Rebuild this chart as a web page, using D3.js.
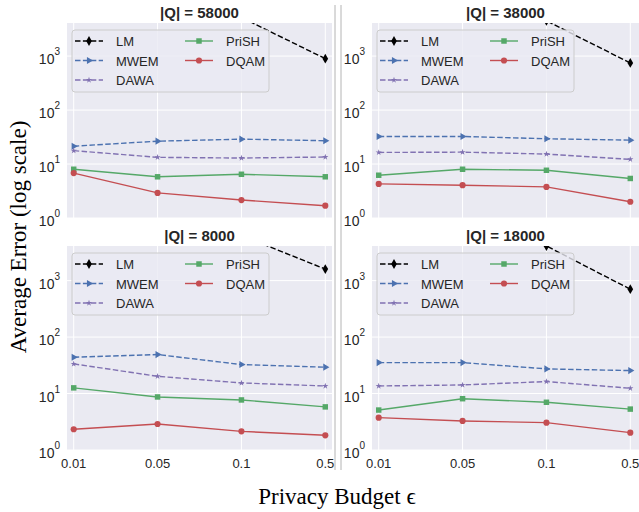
<!DOCTYPE html>
<html>
<head>
<meta charset="utf-8">
<script src="https://cdn.jsdelivr.net/npm/d3@7"></script>
<style>
  body { margin: 0; background: #fff; }
  svg { display: block; }
</style>
</head>
<body>
<div id="chart"></div>
<script>
"use strict";

// x categories (privacy budget)
const epsilons = ["0.01", "0.05", "0.1", "0.5"];
const panelTitles = ["|Q| = 58000", "|Q| = 38000", "|Q| = 8000", "|Q| = 18000"];
const yTickExponents = [0, 1, 2, 3];
const methods = ["LM", "MWEM", "DAWA", "PriSH", "DQAM"];

// one row per panel: 58000, 38000, 8000, 18000
const lmValues = [
    [30000, 14000, 5200, 895],
    [25000, 12000, 4500, 746],
    [40000, 20000, 6300, 1600],
    [20000, 10000, 4100, 705]
];
const mwemValues = [
    [21.4, 26.5, 28.9, 27.0],
    [32.4, 32.4, 29.4, 27.7],
    [44.0, 49.0, 32.6, 29.3],
    [35.3, 35.3, 27.3, 25.5]
];
const dawaValues = [
    [17.7, 13.3, 12.9, 13.5],
    [16.4, 16.6, 15.3, 12.2],
    [33.5, 20.2, 15.4, 13.6],
    [13.6, 14.2, 16.3, 12.4]
];
const prishValues = [
    [8.0, 5.8, 6.46, 5.8],
    [6.2, 8.0, 7.66, 5.4],
    [12.6, 8.7, 7.7, 5.8],
    [5.1, 8.1, 7.0, 5.3]
];
const dqamValues = [
    [6.8, 2.92, 2.15, 1.69],
    [4.28, 4.05, 3.77, 2.0],
    [2.33, 2.89, 2.14, 1.82],
    [3.74, 3.27, 3.05, 2.03]
];

const seriesValues = [lmValues, mwemValues, dawaValues, prishValues, dqamValues];

const width = 639, height = 512;
const textColor = "#262626";

// Look of each method
const styles = {
    LM:    { color: "#000000", dash: "5.5,2.4", symbol: d3.symbolDiamond, size: 28, rotate: 0 },
    MWEM:  { color: "#4C72B0", dash: "5.5,2.4", symbol: d3.symbolTriangle, size: 22, rotate: 90 },
    DAWA:  { color: "#8172B2", dash: "5.5,2.4", symbol: d3.symbolStar, size: 12, rotate: 0 },
    PriSH: { color: "#55A868", dash: null, symbol: d3.symbolSquare, size: 30, rotate: 0 },
    DQAM:  { color: "#C44E52", dash: null, symbol: d3.symbolCircle, size: 30, rotate: 0 }
};

// Panel boxes (xEnd is where the x range stops)
const panels = [
    { left: 67, right: 332, xEnd: 332, top: 23, bottom: 218, xLabels: false },
    { left: 372, right: 639, xEnd: 637, top: 23, bottom: 218, xLabels: false },
    { left: 67, right: 332, xEnd: 332, top: 246, bottom: 450, xLabels: true },
    { left: 372, right: 639, xEnd: 637, top: 246, bottom: 450, xLabels: true }
];

const svg = d3.select("#chart").append("svg")
    .attr("width", width)
    .attr("height", height)
    .attr("viewBox", [0, 0, width, height]);

// Separator lines between the two columns
[335, 341].forEach(x => {
    svg.append("line")
        .attr("x1", x).attr("x2", x)
        .attr("y1", 5).attr("y2", 470)
        .attr("stroke", "#b4b4b4")
        .attr("stroke-width", 1);
});

panels.forEach((p, pi) => {
    const xScale = d3.scalePoint()
        .domain(epsilons)
        .range([p.left, p.xEnd])
        .padding(0.08);

    const yScale = d3.scaleLog()
        .domain([1, 4100])
        .range([p.bottom, p.top]);

    const g = svg.append("g");

    // Background
    g.append("rect")
        .attr("x", p.left).attr("y", p.top)
        .attr("width", p.right - p.left)
        .attr("height", p.bottom - p.top)
        .attr("fill", "#EAEAF2");

    // Grid lines
    g.append("g")
        .selectAll("line")
        .data(epsilons)
        .join("line")
        .attr("x1", d => xScale(d)).attr("x2", d => xScale(d))
        .attr("y1", p.top).attr("y2", p.bottom)
        .attr("stroke", "#fff")
        .attr("stroke-width", 1);

    g.append("g")
        .selectAll("line")
        .data(yTickExponents)
        .join("line")
        .attr("x1", p.left).attr("x2", p.right)
        .attr("y1", d => yScale(Math.pow(10, d)))
        .attr("y2", d => yScale(Math.pow(10, d)))
        .attr("stroke", "#fff")
        .attr("stroke-width", 1);

    // Y tick labels as 10^n
    const yLabel = g.append("g")
        .attr("font-family", "'Liberation Sans', Arial, sans-serif")
        .attr("fill", textColor)
        .selectAll("text")
        .data(yTickExponents)
        .join("text")
        .attr("x", p.left - 7)
        .attr("y", d => yScale(Math.pow(10, d)) + 8)
        .attr("text-anchor", "end");
    yLabel.append("tspan").attr("font-size", 14).text("10");
    yLabel.append("tspan").attr("font-size", 10).attr("dy", -9).text(d => d);

    // X tick labels (bottom row only)
    if (p.xLabels) {
        g.append("g")
            .attr("font-family", "'Liberation Sans', Arial, sans-serif")
            .attr("font-size", 13)
            .attr("fill", textColor)
            .attr("text-anchor", "middle")
            .selectAll("text")
            .data(epsilons)
            .join("text")
            .attr("x", d => xScale(d))
            .attr("y", p.bottom + 18)
            .text(d => d);
    }

    // Title
    g.append("text")
        .attr("x", (p.left + p.right) / 2)
        .attr("y", p.top - 5)
        .attr("text-anchor", "middle")
        .attr("font-family", "'Liberation Sans', Arial, sans-serif")
        .attr("font-weight", "bold")
        .attr("font-size", 15)
        .attr("fill", textColor)
        .text(panelTitles[pi]);

    // Clip the data to the plot area
    const clipId = "clip" + pi;
    svg.append("clipPath").attr("id", clipId)
        .append("rect")
        .attr("x", p.left).attr("y", p.top)
        .attr("width", p.right - p.left)
        .attr("height", p.bottom - p.top);

    const plot = g.append("g").attr("clip-path", `url(#${clipId})`);

    const line = d3.line()
        .x((d, i) => xScale(epsilons[i]))
        .y(d => yScale(d));

    methods.forEach((m, mi) => {
        const s = styles[m];
        const values = seriesValues[mi][pi];

        plot.append("path")
            .datum(values)
            .attr("fill", "none")
            .attr("stroke", s.color)
            .attr("stroke-width", 1.4)
            .attr("stroke-dasharray", s.dash)
            .attr("d", line);

        plot.append("g")
            .selectAll("path")
            .data(values)
            .join("path")
            .attr("d", d3.symbol(s.symbol, s.size))
            .attr("transform", (d, i) => `translate(${xScale(epsilons[i])},${yScale(d)}) rotate(${s.rotate})`)
            .attr("fill", s.color);
    });

    // Legend, two columns
    const legend = g.append("g")
        .attr("transform", `translate(${p.left + 5},${p.top + 7})`);

    legend.append("rect")
        .attr("width", 197)
        .attr("height", 62)
        .attr("rx", 3)
        .attr("fill", "#EAEAF2")
        .attr("fill-opacity", 0.8)
        .attr("stroke", "#cccccc")
        .attr("stroke-width", 1);

    methods.forEach((m, mi) => {
        const s = styles[m];
        const col = mi < 3 ? 0 : 1;
        const row = mi < 3 ? mi : mi - 3;
        const hx = col === 0 ? 3 : 113;
        const ty = 11 + row * 19.5;
        const item = legend.append("g").attr("transform", `translate(${hx},${ty})`);

        item.append("line")
            .attr("x1", 0).attr("x2", 28)
            .attr("stroke", s.color)
            .attr("stroke-width", 1.4)
            .attr("stroke-dasharray", s.dash);

        item.append("path")
            .attr("d", d3.symbol(s.symbol, s.size))
            .attr("transform", `translate(14,0) rotate(${s.rotate})`)
            .attr("fill", s.color);

        item.append("text")
            .attr("x", 41)
            .attr("y", 5)
            .attr("font-family", "'Liberation Sans', Arial, sans-serif")
            .attr("font-size", 13)
            .attr("fill", textColor)
            .text(m);
    });
});

// Shared axis labels
svg.append("text")
    .attr("transform", "translate(26,237) rotate(-90)")
    .attr("text-anchor", "middle")
    .attr("font-family", "'Liberation Serif', 'Times New Roman', serif")
    .attr("font-size", 23)
    .attr("fill", "#000")
    .text("Average Error (log scale)");

svg.append("text")
    .attr("x", 337)
    .attr("y", 504)
    .attr("text-anchor", "middle")
    .attr("font-family", "'Liberation Serif', 'Times New Roman', serif")
    .attr("font-size", 23)
    .attr("fill", "#000")
    .text("Privacy Budget ϵ");
</script>
</body>
</html>
